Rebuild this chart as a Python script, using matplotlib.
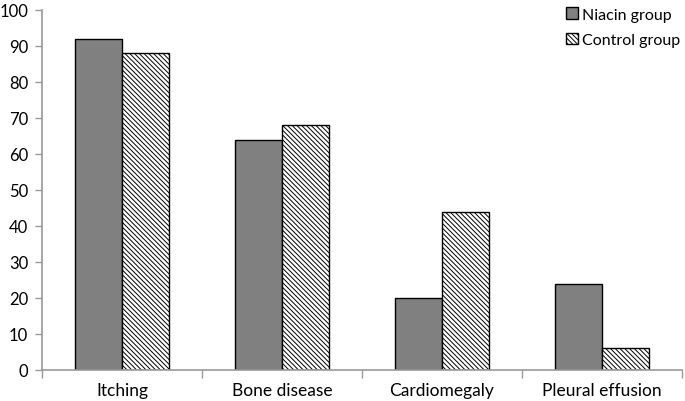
import numpy as np
import matplotlib.pyplot as plt

plt.rcParams['font.family'] = ['Lato', 'DejaVu Sans']
plt.rcParams['hatch.linewidth'] = 0.7

categories = ['Itching', 'Bone disease', 'Cardiomegaly', 'Pleural effusion']
niacin = [92, 64, 20, 24]
control = [88, 68, 44, 6]

fig = plt.figure(figsize=(6.85, 4.02), dpi=100)
ax = fig.add_axes([42/685, 1-371/402, 640/685, 360/402])

x = np.arange(len(categories))
w = 0.293
ax.bar(x - w/2, niacin, w, color='#808080', edgecolor='black', linewidth=1.0,
       label='Niacin group')
ax.bar(x + w/2, control, w, color='white', edgecolor='black', linewidth=1.0,
       hatch='\\\\\\\\\\\\\\', label='Control group')

ax.set_xlim(-0.5, 3.5)
ax.set_ylim(0, 100)
ax.set_yticks(range(0, 101, 10))
ax.set_xticks(x)
ax.set_xticklabels(categories, fontsize=12.5)
ax.tick_params(axis='y', labelsize=12, color='#999999', length=5, width=1, pad=5)
ax.tick_params(axis='x', length=0, pad=9)
ax.set_xticks(np.arange(-0.5, 4.0, 1.0), minor=True)
ax.tick_params(axis='x', which='minor', length=6, color='#999999', width=1)

for s in ['top', 'right']:
    ax.spines[s].set_visible(False)
for s in ['left', 'bottom']:
    ax.spines[s].set_color('#999999')
    ax.spines[s].set_linewidth(1.2)

fig.legend(loc='upper left', bbox_to_anchor=(560/685, 0.995), frameon=False,
           fontsize=11.5, handlelength=0.7, handleheight=0.7, handletextpad=0.3,
           labelspacing=0.7, borderaxespad=0)

fig.savefig('out.png', dpi=100)
